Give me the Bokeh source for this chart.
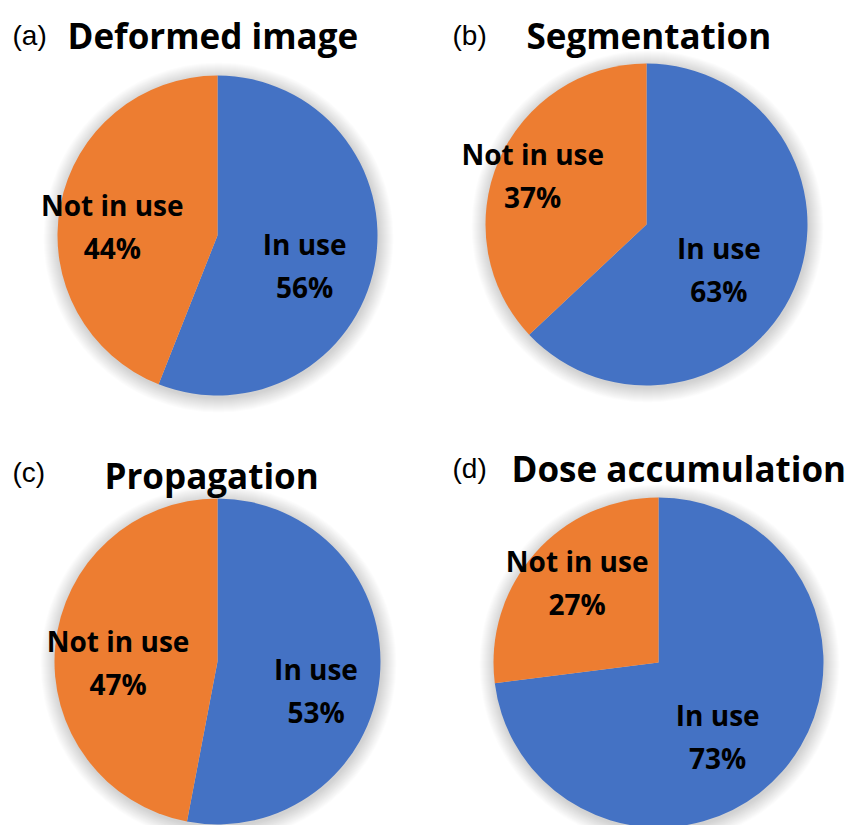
import numpy as np
from bokeh.plotting import figure
from bokeh.models import Range1d, ColumnDataSource
from bokeh.core.properties import value
from bokeh.embed import file_html
from bokeh.resources import INLINE

# ---- data ----
panel_letters = ["(a)", "(b)", "(c)", "(d)"]
titles = ["Deformed image", "Segmentation", "Propagation", "Dose accumulation"]
in_use = [56, 63, 53, 73]
not_in_use = [44, 37, 47, 27]
slice_labels = ["In use", "Not in use"]
slice_colors = ["#4472C4", "#ED7D31"]

# ---- layout (pixels, top-left origin) ----
W, H = 855, 825
centers = [(217, 235), (646, 224), (217, 661), (658, 662)]
radii = [160, 161, 163, 165]
# label placement: (radial fraction, angular offset in degrees) for [In use, Not in use]
label_place = [
    [(0.575, -8.0), (0.66, 6.0)],
    [(0.53, -8.5), (0.77, 0.0)],
    [(0.63, -11.0), (0.61, 5.7)],
    [(0.575, -10.0), (0.69, -3.0)],
]
letter_pos = [(12, 35), (452, 35), (12, 472), (452, 468)]
title_pos = [(67, 35), (526, 35), (104, 475), (511, 468)]
line_gap = 21.5

p = figure(width=W, height=H, output_backend="svg", toolbar_location=None,
           x_range=Range1d(0, W), y_range=Range1d(0, H),
           x_axis_location=None, y_axis_location=None, min_border=0,
           background_fill_color="white", border_fill_color="white")
p.outline_line_color = None
p.grid.visible = False

FONT = value("Open Sans")

for i in range(4):
    cx, cy_px = centers[i]
    cy = H - cy_px
    r = radii[i]
    vals = [in_use[i], not_in_use[i]]
    total = float(sum(vals))
    f = vals[0] / total

    # soft shadow
    for k in range(1, 16):
        p.circle(x=[cx + 1], y=[cy - 2], radius=r + k, fill_color="black",
                 fill_alpha=0.011, line_color=None)

    starts = [np.pi / 2 - 2 * np.pi * f, np.pi / 2]
    ends = [np.pi / 2, np.pi / 2 + 2 * np.pi * (1 - f)]
    mids = [np.pi / 2 - np.pi * f, np.pi / 2 + np.pi * (1 - f)]
    src = ColumnDataSource(dict(x=[cx, cx], y=[cy, cy], start=starts, end=ends,
                                color=slice_colors))
    p.wedge(x="x", y="y", radius=r, start_angle="start", end_angle="end",
            fill_color="color", line_color=None, direction="anticlock", source=src)

    lx, ly = [], []
    for j in range(2):
        frac, off = label_place[i][j]
        a = mids[j] + np.deg2rad(off)
        lx.append(cx + frac * r * np.cos(a))
        ly.append(cy + frac * r * np.sin(a))
    pcts = [f"{v}%" for v in vals]
    p.text(x=lx, y=[v + line_gap for v in ly], text=slice_labels, text_font=FONT,
           text_font_style="bold", text_font_size="28px", text_color="black",
           text_align="center", text_baseline="middle")
    p.text(x=lx, y=[v - line_gap for v in ly], text=pcts, text_font=FONT,
           text_font_style="bold", text_font_size="28px", text_color="black",
           text_align="center", text_baseline="middle")

    # titles
    lxp, lyp = letter_pos[i]
    p.text(x=[lxp], y=[H - lyp], text=[panel_letters[i]],
           text_font=value("Liberation Sans"), text_font_size="28px",
           text_color="black", text_align="left", text_baseline="alphabetic")
    txp, typ = title_pos[i]
    p.text(x=[txp], y=[H - typ], text=[titles[i]], text_font=FONT,
           text_font_style="bold", text_font_size="35px", text_color="black",
           text_align="left", text_baseline="alphabetic")

open("out.html", "w").write(file_html(p, INLINE))
